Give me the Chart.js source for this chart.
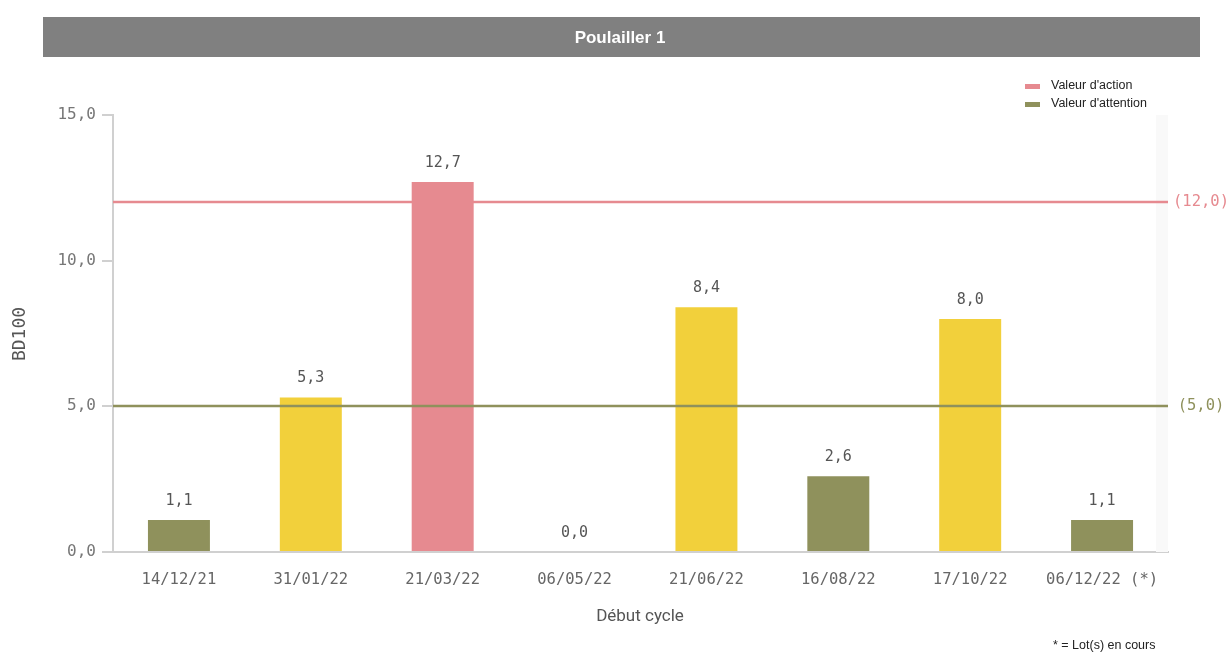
<!DOCTYPE html>
<html>
<head>
<meta charset="utf-8">
<script src="https://cdn.jsdelivr.net/npm/chart.js@4/dist/chart.umd.min.js"></script>
<style>
    html, body { margin: 0; padding: 0; background: #fff; }
    #wrap { width: 1228px; height: 652px; position: relative; }
</style>
</head>
<body>
<div id="wrap"><canvas id="chart" width="1228" height="652"></canvas></div>
<script>
// Données
const titre = 'Poulailler 1';
const debutsCycle = ['14/12/21', '31/01/22', '21/03/22', '06/05/22', '21/06/22', '16/08/22', '17/10/22', '06/12/22 (*)'];
const valeursBD100 = [1.1, 5.3, 12.7, 0.0, 8.4, 2.6, 8.0, 1.1];
const valeurAction = 12.0;
const valeurAttention = 5.0;
const ticksY = [0, 5, 10, 15];

const couleurAction = '#e68a90';
const couleurAttention = '#8f915c';
const couleurNormale = '#f2d03b';
const mono = '"DejaVu Sans Mono", monospace';

// Virgule décimale à la française
function fmt(v) {
    return v.toFixed(1).replace('.', ',');
}

function couleurBarre(v) {
    if (v >= valeurAction) return couleurAction;
    if (v >= valeurAttention) return couleurNormale;
    return couleurAttention;
}

// Dessine bandeau, légende, lignes de référence, étiquettes
const decorPlugin = {
    id: 'decor',
    beforeDatasetsDraw(chart) {
        const { ctx, chartArea } = chart;
        ctx.save();
        ctx.fillStyle = '#f9f9f9';
        ctx.fillRect(chartArea.right - 12, chartArea.top, 12, chartArea.bottom - chartArea.top);
        ctx.restore();
    },
    afterDatasetsDraw(chart) {
        const { ctx, chartArea, scales } = chart;
        const y = scales.y;
        ctx.save();

        // Lignes de référence
        [[valeurAction, couleurAction], [valeurAttention, couleurAttention]].forEach(([val, col]) => {
            const py = Math.round(y.getPixelForValue(val));
            ctx.strokeStyle = col;
            ctx.lineWidth = 2.5;
            ctx.beginPath();
            ctx.moveTo(chartArea.left, py);
            ctx.lineTo(chartArea.right, py);
            ctx.stroke();
            ctx.fillStyle = col;
            ctx.font = '15.5px ' + mono;
            ctx.textAlign = 'center';
            ctx.textBaseline = 'middle';
            ctx.fillText('(' + fmt(val) + ')', 1201, py);
        });

        // Étiquettes des barres
        const meta = chart.getDatasetMeta(0);
        ctx.fillStyle = '#555';
        ctx.font = '15px ' + mono;
        ctx.textAlign = 'center';
        ctx.textBaseline = 'middle';
        meta.data.forEach((bar, i) => {
            ctx.fillText(fmt(valeursBD100[i]), bar.x, bar.y - 19);
        });
        ctx.restore();
    },
    afterDraw(chart) {
        const { ctx } = chart;
        ctx.save();

        // Bandeau titre
        ctx.fillStyle = '#808080';
        ctx.fillRect(43, 17, 1157, 40);
        ctx.fillStyle = '#fff';
        ctx.font = 'bold 17px "Liberation Sans", Arial, sans-serif';
        ctx.textAlign = 'center';
        ctx.textBaseline = 'middle';
        ctx.fillText(titre, 620, 38);

        // Légende
        ctx.font = '12.5px "Liberation Sans", Arial, sans-serif';
        ctx.textAlign = 'left';
        [['Valeur d\'action', couleurAction, 86], ['Valeur d\'attention', couleurAttention, 104]].forEach(([t, c, py]) => {
            ctx.fillStyle = c;
            ctx.fillRect(1025, py - 2, 15, 5);
            ctx.fillStyle = '#222';
            ctx.fillText(t, 1051, py);
        });

        // Titres des axes
        ctx.fillStyle = '#555';
        ctx.font = '18px ' + mono;
        ctx.translate(20, 334);
        ctx.rotate(-Math.PI / 2);
        ctx.textAlign = 'center';
        ctx.fillText('BD100', 0, 0);
        ctx.setTransform(1, 0, 0, 1, 0, 0);

        ctx.font = '17px Roboto, "Noto Sans", sans-serif';
        ctx.fillText('Début cycle', 640, 617);

        // Note
        ctx.fillStyle = '#222';
        ctx.font = '12.5px "Liberation Sans", Arial, sans-serif';
        ctx.textAlign = 'left';
        ctx.fillText('* = Lot(s) en cours', 1053, 646);
        ctx.restore();
    }
};

new Chart(document.getElementById('chart').getContext('2d'), {
    type: 'bar',
    data: {
        labels: debutsCycle,
        datasets: [{
            data: valeursBD100,
            backgroundColor: valeursBD100.map(couleurBarre),
            barPercentage: 0.47,
            categoryPercentage: 1.0
        }]
    },
    options: {
        responsive: false,
        animation: false,
        layout: { padding: { top: 115, right: 60, bottom: 0, left: 0 } },
        plugins: {
            legend: { display: false },
            tooltip: { enabled: false }
        },
        scales: {
            x: {
                grid: { display: false, drawTicks: false },
                border: { color: '#d0d0d0', width: 2 },
                ticks: {
                    color: '#666',
                    font: { family: mono, size: 15.5 },
                    padding: 19,
                    maxRotation: 0
                },
                afterFit(scale) { scale.height = 100; }
            },
            y: {
                min: 0,
                max: 15,
                afterBuildTicks(scale) {
                    scale.ticks = ticksY.map(v => ({ value: v }));
                },
                grid: { drawOnChartArea: false, drawTicks: true, tickLength: 11, color: '#d0d0d0', lineWidth: 2 },
                border: { color: '#d0d0d0', width: 2 },
                ticks: {
                    color: '#777',
                    font: { family: mono, size: 16 },
                    padding: 6,
                    callback: v => fmt(v)
                },
                afterFit(scale) { scale.width = 113; }
            }
        }
    },
    plugins: [decorPlugin]
});
</script>
</body>
</html>
